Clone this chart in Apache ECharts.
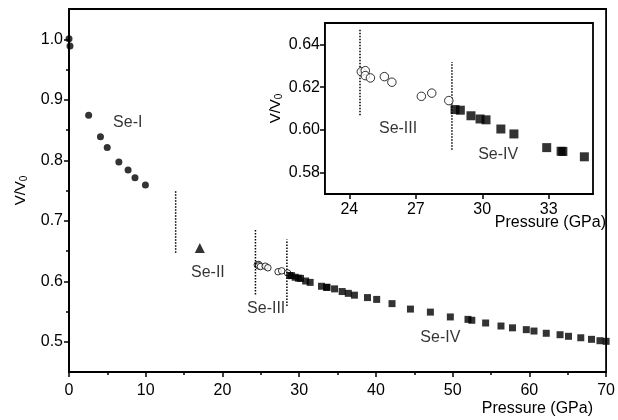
<!DOCTYPE html>
<html><head><meta charset="utf-8">
<script src="https://cdn.jsdelivr.net/npm/echarts@6/dist/echarts.min.js"></script>
<style>html,body{margin:0;padding:0;background:#fff}#c{width:618px;height:420px}</style>
</head><body><div id="c"></div>
<script>
// Se-I (filled circles)
const seIP = [0, 0.13, 2.56, 4.1, 4.98, 6.5, 7.7, 8.6, 9.96];
const seIV = [1.001, 0.989, 0.8745, 0.839, 0.821, 0.797, 0.784, 0.771, 0.759];
// Se-II (triangle)
const seIIP = [17.05];
const seIIV = [0.655];
// Se-III (open circles)
const seIIIP = [24.54, 24.72, 24.72, 24.95, 25.58, 25.92, 27.25, 27.72, 28.49];
const seIIIV = [0.6272, 0.6277, 0.6254, 0.6243, 0.6249, 0.6223, 0.6157, 0.6172, 0.6137];
// Se-IV (filled squares)
const seIVP = [28.77, 29.01, 29.49, 29.90, 30.17, 30.84, 31.43, 32.91, 33.56, 33.64, 34.61, 35.6, 36.4, 37.2, 38.9, 40.1, 42.1, 44.5, 47.1, 49.7, 52.0, 52.5, 54.3, 56.3, 57.8, 59.6, 60.6, 62.2, 64.0, 65.1, 66.7, 68.1, 69.2, 70.0];
const seIVV = [0.6095, 0.6092, 0.6066, 0.6051, 0.6047, 0.6004, 0.5981, 0.5917, 0.5900, 0.5899, 0.5874, 0.583, 0.580, 0.577, 0.573, 0.570, 0.563, 0.554, 0.549, 0.541, 0.537, 0.5355, 0.531, 0.526, 0.523, 0.520, 0.5177, 0.514, 0.5116, 0.509, 0.5066, 0.504, 0.5017, 0.5007];
// phase boundaries [pressure, low, high]
const mainBounds = [[13.9, 0.647, 0.749], [24.3, 0.578, 0.686], [28.4, 0.559, 0.669]];
const insetBounds = [[24.48, 0.6069, 0.6469], [28.63, 0.5907, 0.6318]];
// phase labels
const mainLabelText = ['Se-I', 'Se-II', 'Se-III', 'Se-IV'];
const mainLabelPos = [[7.66, 0.863], [18.1, 0.6143], [25.7, 0.5554], [48.4, 0.5073]];
const insetLabelText = ['Se-III', 'Se-IV'];
const insetLabelPos = [[26.2, 0.6004], [30.72, 0.5884]];
// ticks
const mainXTicks = [0, 10, 20, 30, 40, 50, 60, 70];
const mainYTicks = [0.5, 0.6, 0.7, 0.8, 0.9, 1.0];
const mainYMinor = [0.55, 0.65, 0.75, 0.85, 0.95];
const insetXTicks = [24, 27, 30, 33];
const insetYTicks = [0.58, 0.60, 0.62, 0.64];

const FONT = 'Liberation Sans, Arial, sans-serif';
const zip = (a, b) => a.map((v, i) => [v, b[i]]);
const insetFilter = arr => arr.filter(p => p[0] <= 35);

const axisLineS = {show: true, lineStyle: {color: '#000', width: 1.8}};
const tickLS = {color: '#000', width: 1.5};
const nameRich = {sub: {fontSize: 10, fontFamily: FONT, color: '#000', verticalAlign: 'bottom', padding: [7, 0, 0, 0]}};

function boundSeries(bounds, xi, yi) {
  return bounds.map(b => ({
    type: 'line', xAxisIndex: xi, yAxisIndex: yi, symbol: 'none', silent: true,
    data: [[b[0], b[1]], [b[0], b[2]]],
    lineStyle: {color: '#000', width: 1.5, type: [1.5, 1.5]}, z: 3
  }));
}
function labelSeries(texts, pos, xi, yi) {
  return {
    type: 'scatter', xAxisIndex: xi, yAxisIndex: yi, symbolSize: 0, silent: true,
    data: pos.map((p, i) => ({value: p, name: texts[i]})),
    label: {show: true, position: 'inside', formatter: p => p.name, color: '#000', fontSize: 16, fontFamily: FONT},
    z: 5
  };
}

const chart = echarts.init(document.getElementById('c'), null, {renderer: 'canvas'});
chart.setOption({
  backgroundColor: '#fff',
  animation: false,
  grid: [
    {left: 69, top: 9, right: 9, bottom: 48, show: true, borderColor: '#000', borderWidth: 1.8, backgroundColor: 'transparent'},
    {left: 325, top: 23, width: 268, height: 171, show: true, borderColor: '#000', borderWidth: 1.8, backgroundColor: '#fff', z: 10}
  ],
  xAxis: [
    {type: 'value', gridIndex: 0, min: 0, max: 70, interval: 10,
     axisLine: axisLineS, axisTick: {show: true, length: 5, lineStyle: tickLS},
     minorTick: {show: true, splitNumber: 2, length: 3, lineStyle: tickLS},
     splitLine: {show: false}, minorSplitLine: {show: false},
     axisLabel: {color: '#000', fontSize: 16, fontFamily: FONT, margin: 11}},
    {type: 'value', gridIndex: 1, min: 22.9, max: 35,
     axisLine: axisLineS, axisTick: {show: true, length: 5, customValues: insetXTicks, lineStyle: tickLS},
     splitLine: {show: false},
     axisLabel: {color: '#000', fontSize: 16, fontFamily: FONT, margin: 8, customValues: insetXTicks}}
  ],
  yAxis: [
    {type: 'value', gridIndex: 0, position: 'left', min: 0.45, max: 1.05,
     axisLine: axisLineS, axisTick: {show: true, length: 5, customValues: mainYTicks, lineStyle: tickLS},
     splitLine: {show: false},
     axisLabel: {color: '#000', fontSize: 16, fontFamily: FONT, margin: 6, customValues: mainYTicks, formatter: v => v.toFixed(1)},
     name: 'V/V{sub|0}', nameLocation: 'middle', nameGap: 40,
     nameTextStyle: {color: '#000', fontSize: 15, fontFamily: FONT, rich: nameRich}},
    {type: 'value', gridIndex: 0, position: 'left', offset: 0, min: 0.45, max: 1.05,
     axisLine: {show: false}, axisLabel: {show: false}, splitLine: {show: false},
     axisTick: {show: true, length: 3, customValues: mainYMinor, lineStyle: tickLS}},
    {type: 'value', gridIndex: 1, position: 'left', min: 0.57, max: 0.65,
     axisLine: axisLineS, axisTick: {show: true, length: 5, customValues: insetYTicks, lineStyle: tickLS},
     splitLine: {show: false},
     axisLabel: {color: '#000', fontSize: 16, fontFamily: FONT, margin: 5, customValues: insetYTicks, formatter: v => v.toFixed(2)},
     name: 'V/V{sub|0}', nameLocation: 'middle', nameGap: 41,
     nameTextStyle: {color: '#000', fontSize: 15, fontFamily: FONT, rich: nameRich}}
  ],
  graphic: [
    {type: 'text', right: 618 - 593, top: 401, style: {text: 'Pressure (GPa)', fill: '#000', font: '16px ' + FONT}},
    {type: 'text', right: 618 - 606, top: 215, z: 100, style: {text: 'Pressure (GPa)', fill: '#000', font: '16px ' + FONT}}
  ],
  series: [
    {type: 'scatter', xAxisIndex: 0, yAxisIndex: 0, symbol: 'circle', symbolSize: 7, itemStyle: {color: '#000'}, data: zip(seIP, seIV)},
    {type: 'scatter', xAxisIndex: 0, yAxisIndex: 0, symbol: 'triangle', symbolSize: 10, itemStyle: {color: '#000'}, data: zip(seIIP, seIIV)},
    {type: 'scatter', xAxisIndex: 0, yAxisIndex: 0, symbol: 'circle', symbolSize: 6.5, itemStyle: {color: '#fff', borderColor: '#000', borderWidth: 1}, data: zip(seIIIP, seIIIV)},
    {type: 'scatter', xAxisIndex: 0, yAxisIndex: 0, symbol: 'rect', symbolSize: 7, itemStyle: {color: '#000'}, data: zip(seIVP, seIVV)},
    ...boundSeries(mainBounds, 0, 0),
    labelSeries(mainLabelText, mainLabelPos, 0, 0),
    {type: 'scatter', xAxisIndex: 1, yAxisIndex: 2, symbol: 'circle', symbolSize: 8.5, z: 20, itemStyle: {color: '#fff', borderColor: '#000', borderWidth: 1}, data: insetFilter(zip(seIIIP, seIIIV))},
    {type: 'scatter', xAxisIndex: 1, yAxisIndex: 2, symbol: 'rect', symbolSize: 9, z: 20, itemStyle: {color: '#000'}, data: insetFilter(zip(seIVP, seIVV))},
    ...boundSeries(insetBounds, 1, 2).map(s => Object.assign(s, {z: 19})),
    Object.assign(labelSeries(insetLabelText, insetLabelPos, 1, 2), {z: 21})
  ]
});
</script>
</body></html>
